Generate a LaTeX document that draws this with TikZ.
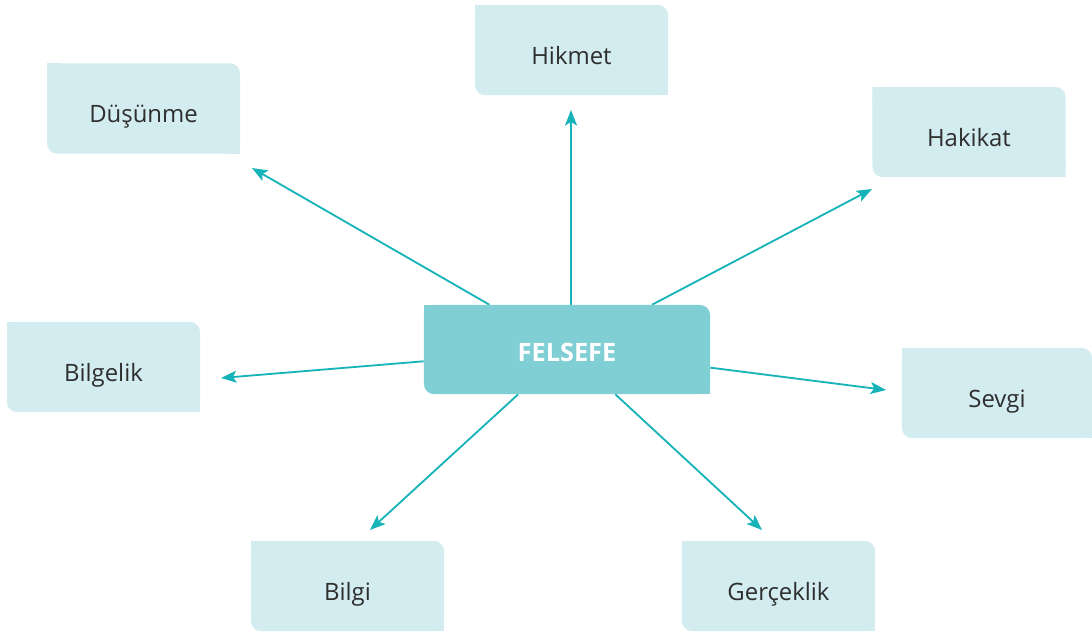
\documentclass[tikz,border=0pt]{standalone}
\usepackage{fontspec}
\setmainfont{Open Sans}
\usepackage{tikz}
\usetikzlibrary{arrows.meta}
\pgfdeclarelayer{nodelayer}
\pgfdeclarelayer{edgelayer}
\pgfsetlayers{edgelayer,nodelayer,main}
\definecolor{leaffill}{HTML}{D2ECEF}
\definecolor{hubfill}{HTML}{80CFD4}
\definecolor{spoketeal}{HTML}{16B3B8}
\definecolor{labelgray}{HTML}{2E2E2E}
\tikzset{notched/.style={shape=rectangle, path picture={
	\fill[#1, rounded corners=7pt] (path picture bounding box.south west) rectangle (path picture bounding box.north east);
	\fill[#1] (path picture bounding box.north west) rectangle ++(10pt,-10pt);
	\fill[#1] (path picture bounding box.south east) rectangle ++(-10pt,10pt);}}}
\tikzstyle{leaf}=[notched=leaffill, text=labelgray, font=\fontsize{17}{20}\selectfont, text height=20pt, text depth=0pt, minimum width=4.825cm, minimum height=2.25cm]
\tikzstyle{hub}=[notched=hubfill, text=white, font=\fontsize{18}{21}\selectfont\bfseries, text height=17.5pt, text depth=0pt, minimum width=7.15cm, minimum height=2.225cm]
\tikzstyle{spoke}=[-{Stealth[length=11pt, width=8.5pt, inset=2.5pt]}, draw=spoketeal, line width=1.3pt]

\begin{document}
\begin{tikzpicture}[x=0.025cm, y=-0.025cm]
	\useasboundingbox (0, 0) rectangle (1092, 634);
	\begin{pgfonlayer}{nodelayer}
		\node [style=hub] (0) at (567, 349.5) {FELSEFE};
		\node [style=leaf] (1) at (143.5, 108.5) {Düşünme};
		\node [style=leaf] (2) at (571.5, 50) {Hikmet};
		\node [style=leaf] (3) at (969, 132) {Hakikat};
		\node [style=leaf] (4) at (103.5, 367) {Bilgelik};
		\node [style=leaf, minimum width=4.75cm] (5) at (997, 393) {Sevgi};
		\node [style=leaf] (6) at (347.5, 586) {Bilgi};
		\node [style=leaf] (7) at (778.5, 586) {Gerçeklik};
	\end{pgfonlayer}
	\begin{pgfonlayer}{edgelayer}
		\coordinate (8) at (252, 168);
		\coordinate (9) at (571, 110);
		\coordinate (10) at (872, 189);
		\coordinate (11) at (221, 378);
		\coordinate (12) at (886, 390);
		\coordinate (13) at (370, 530);
		\coordinate (14) at (762, 530);
		\draw [style=spoke] (0) to (8);
		\draw [style=spoke] (0.north -| 9) to (9);
		\draw [style=spoke] (0) to (10);
		\draw [style=spoke] (0) to (11);
		\draw [style=spoke] (0) to (12);
		\draw [style=spoke] (0) to (13);
		\draw [style=spoke] (0) to (14);
	\end{pgfonlayer}
\end{tikzpicture}
\end{document}
